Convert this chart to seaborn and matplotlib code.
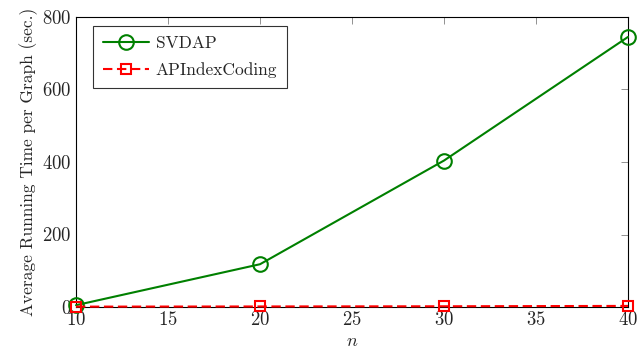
import matplotlib
matplotlib.use("Agg")
import matplotlib.pyplot as plt
import seaborn as sns
import pandas as pd

n_values = [10, 20, 30, 40]
svdap = [5, 118, 404, 745]
apindex = [1.0, 1.5, 2.0, 3.0]

sns.set_style("white")
plt.rcParams['font.family'] = ['cmr10', 'DejaVu Serif']
plt.rcParams['mathtext.fontset'] = 'cm'
plt.rcParams['axes.formatter.use_mathtext'] = True

fig = plt.figure(figsize=(6.42, 3.5), dpi=100)
ax = fig.add_axes([76/642, 1-307/350, (628-76)/642, (307-17)/350])

df1 = pd.DataFrame({"n": n_values, "t": svdap})
df2 = pd.DataFrame({"n": n_values, "t": apindex})

sns.lineplot(data=df1, x="n", y="t", ax=ax, color="#008000", linewidth=1.5,
             marker="o", markersize=10.5, markerfacecolor="none",
             markeredgecolor="#008000", markeredgewidth=1.5, label="SVDAP",
             clip_on=False, zorder=3)
sns.lineplot(data=df2, x="n", y="t", ax=ax, color="#ff0000", linewidth=1.5,
             marker="s", markersize=7.5, markerfacecolor="none",
             markeredgecolor="#ff0000", markeredgewidth=1.5,
             dashes=False, label="APIndexCoding", clip_on=False, zorder=4)
ax.lines[-1].set_linestyle((0, (4.5, 2.2)))

ax.set_xlim(10, 40)
ax.set_ylim(0, 800)
ax.set_xticks([10, 15, 20, 25, 30, 35, 40])
ax.set_yticks([0, 200, 400, 600, 800])
ax.set_xlabel("$n$", fontsize=13, labelpad=3)
ax.set_ylabel("Average Running Time per Graph (sec.)", fontsize=12.5, labelpad=3)
ax.tick_params(direction="in", top=True, right=True, length=5, width=0.6,
               color="#808080", labelsize=13.5, pad=3)
for s in ax.spines.values():
    s.set_visible(True)
    s.set_color("black")
    s.set_linewidth(0.8)

leg = ax.legend(loc="upper left", bbox_to_anchor=(0.0308, 0.969), frameon=True,
                fancybox=False, edgecolor="black", fontsize=12.5,
                handlelength=2.65, borderpad=0.55, labelspacing=0.65,
                handletextpad=0.4, borderaxespad=0)
leg.get_frame().set_linewidth(0.8)
leg.get_lines()[1].set_linestyle((0, (4.5, 2.2)))

fig.savefig("out.png", dpi=100)
